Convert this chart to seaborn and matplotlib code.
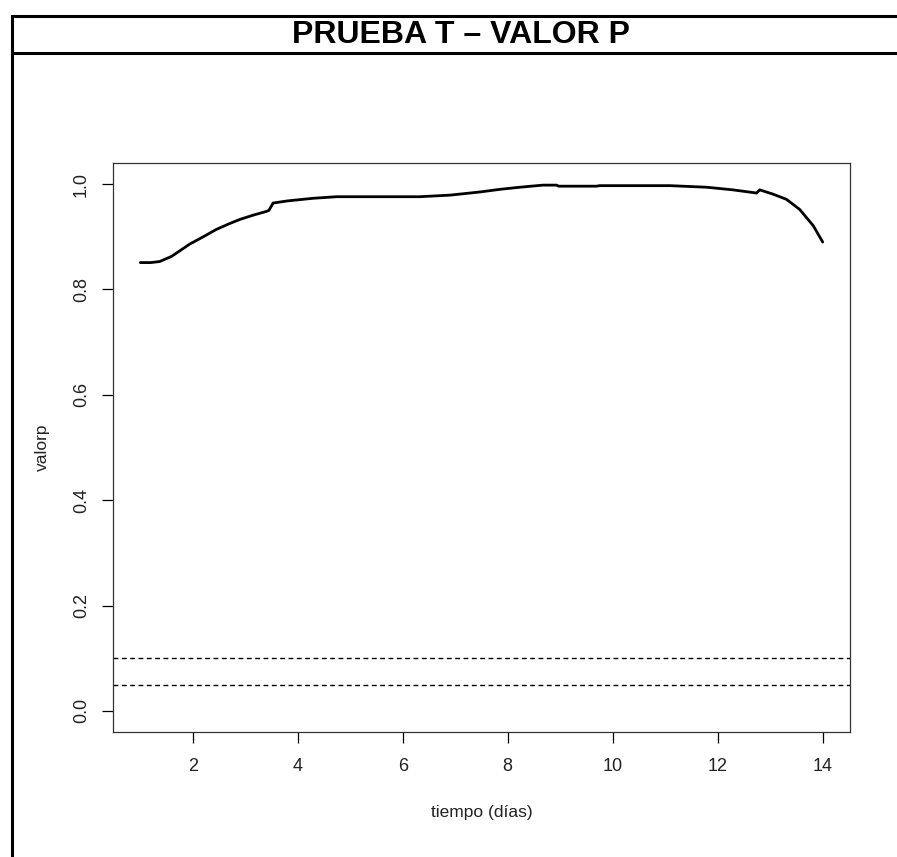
import matplotlib
matplotlib.use("Agg")
import matplotlib.pyplot as plt
import seaborn as sns
import pandas as pd
from matplotlib.lines import Line2D

# Data
dias = [1.0, 1.2, 1.37, 1.6, 1.94, 2.2, 2.45, 2.7, 2.9, 3.15, 3.40, 3.45, 3.53,
        3.8, 4.29, 4.74, 5.5, 6.32, 6.9, 7.47, 7.85, 8.23, 8.67, 8.93, 8.97,
        9.69, 9.75, 10.5, 11.09, 11.79, 12.29, 12.74, 12.80, 13.05, 13.31,
        13.56, 13.82, 14.0]
valorp = [0.851, 0.851, 0.853, 0.863, 0.886, 0.900, 0.914, 0.925, 0.933, 0.941,
          0.948, 0.950, 0.964, 0.968, 0.973, 0.976, 0.976, 0.976, 0.979, 0.985,
          0.990, 0.994, 0.998, 0.998, 0.996, 0.996, 0.997, 0.997, 0.997, 0.994,
          0.989, 0.983, 0.989, 0.981, 0.971, 0.952, 0.921, 0.890]
umbrales = [0.05, 0.10]
x_ticks = [2, 4, 6, 8, 10, 12, 14]
y_ticks = [0.0, 0.2, 0.4, 0.6, 0.8, 1.0]
y_ticklabels = ["0.0", "0.2", "0.4", "0.6", "0.8", "1.0"]
titulo = "PRUEBA T \u2013 VALOR P"

sns.set_style("white")
plt.rcParams['font.family'] = ['Liberation Sans', 'DejaVu Sans']

W, H = 897, 857
fig = plt.figure(figsize=(W / 100, H / 100), dpi=100)
ax = fig.add_axes([113 / W, 1 - 732 / H, (850 - 113) / W, (732 - 163) / H])

df = pd.DataFrame({"tiempo": dias, "valorp": valorp})
sns.lineplot(data=df, x="tiempo", y="valorp", ax=ax, color="black", lw=2,
             sort=False, estimator=None)
for u in umbrales:
    ax.axhline(u, color="black", lw=1, ls=(0, (3.5, 2.5)))

ax.set_xlim(0.48, 14.52)
ax.set_ylim(-0.04, 1.04)
ax.set_xticks(x_ticks)
ax.set_xticklabels([str(t) for t in x_ticks])
ax.set_yticks(y_ticks)
ax.set_yticklabels(y_ticklabels, rotation=90, va="center")
ax.tick_params(axis="both", which="major", direction="out", length=7.7, width=0.9,
               color="black", labelsize=13, labelcolor="#222222", bottom=True, left=True)
ax.tick_params(axis="x", pad=11)
ax.tick_params(axis="y", pad=9)
for s in ax.spines.values():
    s.set_color("#333333")
    s.set_linewidth(0.9)

ax.set_xlabel("tiempo (d\u00edas)", fontsize=12.5, color="#222222")
ax.set_ylabel("valorp", fontsize=12.5, color="#222222")
ax.xaxis.set_label_coords(0.5, (732 - 805) / 569)
ax.yaxis.set_label_coords((50 - 113) / 737, 0.5)

# Frame around figure and title box
lw_frame = 2.2
fig.add_artist(Line2D([12 / W, 12 / W], [0, 1 - 15.7 / H], transform=fig.transFigure,
                      color="black", lw=lw_frame, solid_capstyle="projecting"))
fig.add_artist(Line2D([12 / W, 1], [1 - 15.7 / H, 1 - 15.7 / H], transform=fig.transFigure,
                      color="black", lw=lw_frame))
fig.add_artist(Line2D([12 / W, 1], [1 - 53 / H, 1 - 53 / H], transform=fig.transFigure,
                      color="black", lw=lw_frame))
fig.text(461 / W, 1 - 35 / H, titulo, ha="center", va="center",
         fontsize=23, fontweight="bold", color="black")

fig.savefig("out.png", dpi=100)
